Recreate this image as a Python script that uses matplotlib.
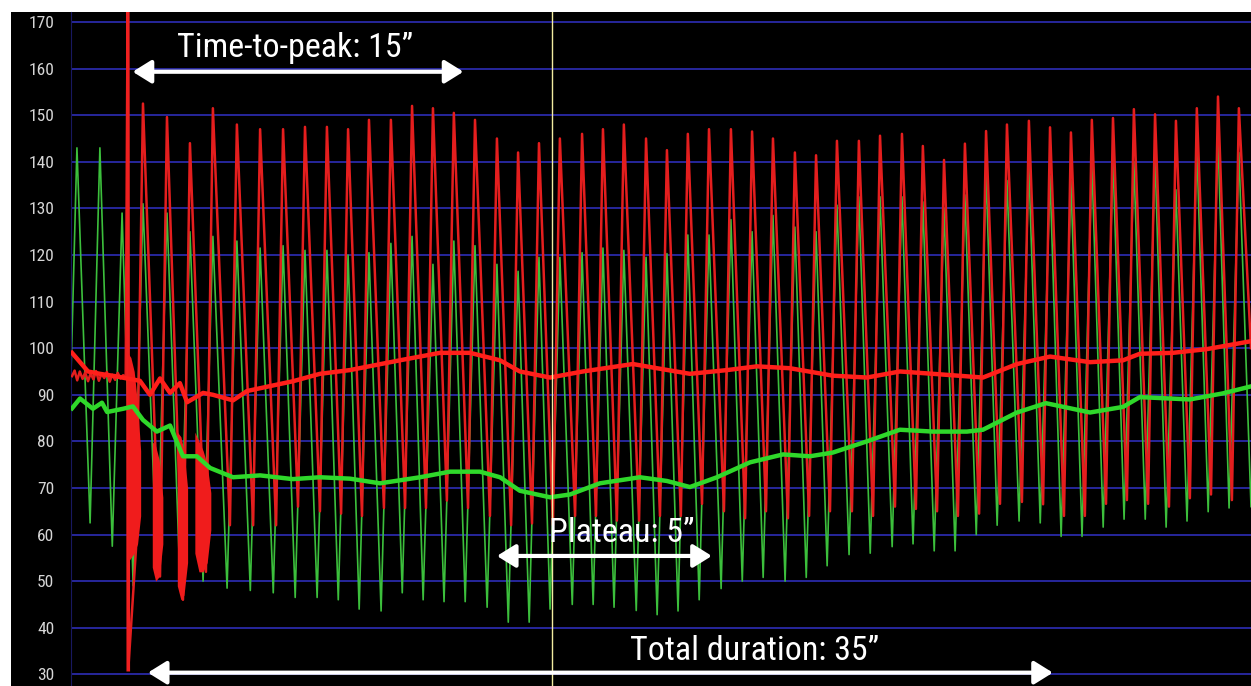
import matplotlib
matplotlib.use("Agg")
import matplotlib.pyplot as plt
from matplotlib import font_manager
from matplotlib.patches import Rectangle

# beat times (s) - the first three beats come before the cuff event
beat_t = [0.23, 1.12, 1.98,
          2.79, 3.72, 4.61, 5.50, 6.43, 7.33, 8.22, 9.07, 9.92, 10.74,
          11.55, 12.40, 13.22, 14.03, 14.84, 15.66, 16.51, 17.33, 18.14, 18.95,
          19.81, 20.62, 21.43, 22.29, 23.10, 23.91, 24.73, 25.58, 26.40, 27.21,
          28.06, 28.88, 29.69, 30.54, 31.36, 32.21, 33.02, 33.84, 34.65, 35.47,
          36.28, 37.13, 37.95, 38.76, 39.57, 40.39, 41.20, 42.02, 42.83, 43.64,
          44.46, 45.27]

green_peak = [143, 143, 129,
              131, 129, 125, 124, 123, 121.5, 122, 121, 121, 120,
              120.5, 122.5, 124, 118, 123, 122, 118, 116.5, 119.5, 119.5,
              120.5, 121.5, 121, 119.5, 120.3, 124.3, 124.3, 127.6, 125, 128.5,
              126, 125, 130.7, 132.5, 132.5, 132.5, 131.4, 130, 132.9, 137.5,
              136, 139, 137, 136, 140, 140.7, 140, 141, 134, 143,
              145, 142]

green_trough = [63, 62.5, 57.5,
                49, 51.6, 49, 50, 48.5, 48, 47.5, 46.5, 46.5, 46,
                44, 43.6, 47.5, 46, 45.6, 45.6, 44.4, 41.2, 41.2, 44,
                45, 45, 44.4, 43.7, 42.8, 43.6, 46, 48.4, 50, 50.8,
                50, 50.8, 53.3, 55.7, 56, 57.4, 58, 56.5, 56.5, 60,
                62, 62.9, 62.5, 59.6, 59.6, 61.6, 63.3, 63.3, 61.6, 62.9,
                64.9, 65.7]

# red (arterial) beats start at beat_t[3]
red_peak = [152.5, 149.6, 144, 151.5, 148, 147, 147, 147.5, 147.5, 147,
            149, 149, 152, 151.5, 150.5, 149, 145, 142, 144, 145,
            146, 147, 148, 145, 142.5, 146, 147, 147, 146.5, 145,
            142, 141.4, 144.5, 144.5, 145.6, 146, 143.4, 140.4, 143.9, 146.6,
            148, 148.8, 147.4, 146.3, 149, 149.4, 151.3, 150.2, 148.8, 151.5,
            154, 151.5]

red_trough = [57, 51, 46, 52, 62, 62, 62, 66, 65, 64.5,
              64, 65.7, 65.7, 65.7, 67.3, 65.7, 64, 62, 62.4, 62,
              64, 64, 63, 63, 64, 64, 66.6, 65, 63.5, 65,
              63.5, 64, 65, 65, 64, 66, 65.5, 65, 64, 64.5,
              66.6, 67, 66.5, 64, 64, 66.6, 67.4, 66.6, 66, 67.8,
              68.6, 67.4]

# flat red signal before the event, then the spike artefact
red_pre_t = [0.04, 0.14, 0.24, 0.34, 0.45, 0.55, 0.66, 0.76, 0.87, 0.97, 1.08,
             1.18, 1.29, 1.39, 1.50, 1.60, 1.71, 1.81, 1.92, 2.02, 2.12]
red_pre_v = [94.0, 95.2, 93.1, 95.0, 93.4, 94.8, 92.9, 94.6, 93.3, 95.1, 93.0,
             94.5, 93.6, 94.9, 92.8, 94.3, 93.2, 94.7, 93.5, 94.2, 93.8]
red_spike_t = [2.20, 2.22]
red_spike_v = [180, 31]
end_t = 45.74
red_end = 100
green_end = 66

# noisy bursts right after the event (time, low, high)
bursts = [
    ([2.20, 2.32, 2.45, 2.58, 2.70], [54, 55, 56, 58, 64], [99, 98, 95, 88, 78]),
    ([3.15, 3.28, 3.42, 3.56], [53, 50, 51, 58], [80, 79, 76, 68]),
    ([4.12, 4.26, 4.38, 4.52], [49, 46, 47, 54], [82, 81, 78, 70]),
    ([4.80, 4.96, 5.12, 5.28, 5.42], [56, 52, 52, 54, 61], [82, 80, 78, 75, 69]),
]

red_mean_t = [0.04, 0.35, 0.66, 1.12, 1.71, 2.17, 2.67, 3.06, 3.45, 3.84, 4.22, 4.50,
              5.12, 5.50, 6.28, 6.82, 7.83, 8.60, 9.65, 10.81, 12.75, 14.30, 15.47, 16.63,
              17.40, 18.57, 19.84, 21.78, 22.71, 23.99, 25.43, 26.59, 27.87, 29.53, 30.85, 32.13,
              33.41, 35.35, 36.67, 37.95, 39.50, 40.78, 41.43, 42.71, 44.03, 45.74]
red_mean = [99, 97, 95, 94.5, 94, 93.5, 93, 90, 93.5, 90.4, 92.5, 88.4,
            90.4, 90, 88.8, 90.8, 92, 92.9, 94.5, 95.3, 97.4, 99, 99, 97.4,
            95, 93.7, 95, 96.6, 95.7, 94.5, 95.3, 96.1, 95.7, 94.1, 93.7, 95,
            94.5, 93.7, 96.6, 98.2, 97, 97.4, 98.8, 99, 99.8, 101.5]

green_mean_t = [0.04, 0.35, 0.85, 1.20, 1.40, 2.02, 2.40, 2.79, 3.33, 3.84,
                4.34, 4.88, 5.39, 6.28, 7.33, 8.60, 9.65, 10.81, 11.98, 13.53,
                14.69, 15.85, 16.63, 17.40, 18.57, 19.34, 20.50, 22.05, 23.10, 23.99,
                25.04, 26.32, 27.60, 28.64, 29.53, 30.85, 32.13, 33.41, 34.73, 35.35,
                36.67, 37.79, 39.50, 40.78, 41.43, 43.37, 44.65, 45.74]
green_mean = [87.1, 89.2, 87, 88.3, 86.3, 87, 87.5, 84.6, 82.1, 83.4,
              76.8, 76.8, 74.3, 72.3, 72.7, 71.9, 72.3, 72, 71, 72.3,
              73.5, 73.5, 72.3, 69.4, 68, 68.6, 71, 72.3, 71.5, 70.2,
              72.3, 75.5, 77.2, 76.8, 77.6, 80, 82.5, 82.1, 82.1, 82.5,
              86.2, 88.2, 86.2, 87.4, 89.5, 89, 90.3, 91.8]

cursor_t = 18.64
yticks = list(range(30, 171, 10))

# upstroke durations used to place each trough before its peak
red_rise = 0.27
green_rise = 0.38

names = {f.name for f in font_manager.fontManager.ttflist}
narrow = 'DejaVu Sans'
for n in ['Liberation Sans Narrow', 'Roboto Condensed', 'Liberation Sans', 'Arial']:
    if n in names:
        narrow = n
        break

fig = plt.figure(figsize=(12.51, 6.86), dpi=100, facecolor='white')
fig.patches.append(Rectangle((11 / 1251, 0), 1, 674 / 686, transform=fig.transFigure,
                             facecolor='black', edgecolor='none', zorder=-10))
ax = fig.add_axes([71 / 1251, 0, 1180 / 1251, 674 / 686])
ax.set_facecolor('black')
ax.set_xlim(0, end_t)
ax.set_ylim(27.5, 172.15)

ax.set_yticks(yticks)
ax.set_xticks([])
ax.grid(axis='y', color='#2a2aa8', lw=1.3)
ax.set_axisbelow(True)
for side in ['top', 'right', 'bottom']:
    ax.spines[side].set_visible(False)
ax.spines['left'].set_color('#181860')
ax.tick_params(axis='y', length=0, pad=12, labelcolor='#d6d6d6', labelsize=12.5)
for lab in ax.get_yticklabels():
    lab.set_fontfamily(narrow)

# green pulse trace
gx, gy = [], []
for t, lo, hi in zip(beat_t, green_trough, green_peak):
    gx += [t - green_rise, t]
    gy += [lo, hi]
gx.append(end_t)
gy.append(green_end)
ax.plot(gx, gy, color='#3cbf3c', lw=1.2, zorder=2)

# red pulse trace
rx = red_pre_t + red_spike_t
ry = red_pre_v + red_spike_v
for t, lo, hi in zip(beat_t[3:], red_trough, red_peak):
    rx += [t - red_rise, t]
    ry += [lo, hi]
rx.append(end_t)
ry.append(red_end)
ax.plot(rx, ry, color='#e41e1e', lw=1.8, zorder=3)
ax.plot(red_spike_t, red_spike_v, color='#f02020', lw=2.6, zorder=3)

for bt, lo, hi in bursts:
    ax.fill_between(bt, lo, hi, color='#f01c1c', lw=0, zorder=3)

ax.plot(green_mean_t, green_mean, color='#2fd82a', lw=3.2, zorder=4)
ax.plot(red_mean_t, red_mean, color='#ff1f1a', lw=3.2, zorder=4)

ax.axvline(cursor_t, color='#f2eca0', lw=1.0, zorder=5)

arrow = dict(arrowstyle='<|-|>,head_length=0.45,head_width=0.28', color='white',
             lw=3, mutation_scale=25, shrinkA=0, shrinkB=0)
ax.annotate('', xy=(2.39, 159.33), xytext=(15.21, 159.33), arrowprops=arrow, zorder=6)
ax.annotate('', xy=(16.51, 55.41), xytext=(24.84, 55.41), arrowprops=arrow, zorder=6)
ax.annotate('', xy=(2.98, 30.36), xytext=(38.06, 30.36), arrowprops=arrow, zorder=6)

txt = dict(color='white', fontsize=24.5, family=narrow,
           ha='center', va='baseline', zorder=7)
ax.text(8.68, 162.55, 'Time-to-peak: 15\u201d', **txt)
ax.text(21.34, 58.41, 'Plateau: 5\u201d', **txt)
ax.text(26.50, 33.09, 'Total duration: 35\u201d', **txt)

fig.savefig('out.png', dpi=100, facecolor='white')
